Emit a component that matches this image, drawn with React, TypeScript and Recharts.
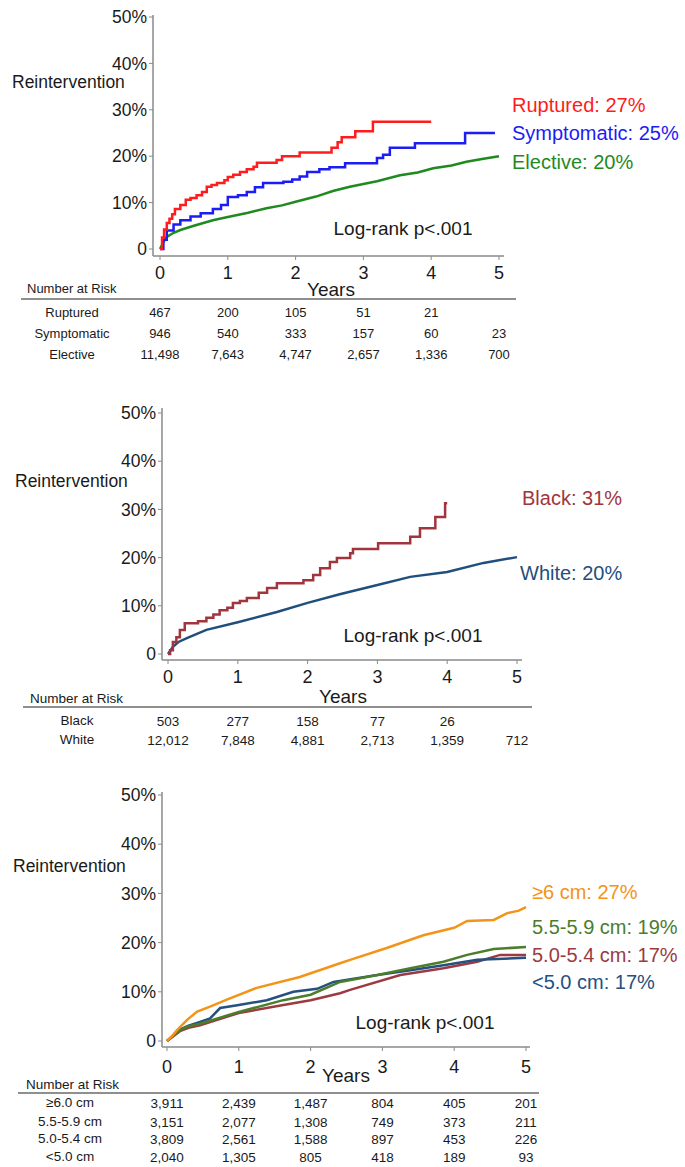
import React from 'react';
import { LineChart, Line, XAxis, YAxis } from 'recharts';

const years = [0, 1, 2, 3, 4, 5];
const yTicks = [0, 10, 20, 30, 40, 50];

// panel 1: presentation
const ruptured: [number, number][] = [
  [0, 0], [0.03, 2.5], [0.06, 4.2], [0.1, 5.6], [0.14, 6.5], [0.18, 7.5], [0.22, 8.6], [0.3, 9.5],
  [0.38, 10.6], [0.45, 11], [0.54, 11.6], [0.62, 12.3], [0.69, 13.4], [0.76, 13.8], [0.84, 14.2],
  [0.95, 14.8], [1.0, 15.5], [1.08, 16], [1.18, 16.6], [1.28, 17.2], [1.38, 17.7], [1.43, 18.6],
  [1.72, 19.2], [1.8, 20], [2.06, 20.8], [2.53, 21.8], [2.62, 23], [2.68, 24.1], [2.88, 25.4],
  [3.14, 27.4], [4.0, 27.4],
];
const symptomatic: [number, number][] = [
  [0, 0], [0.05, 2], [0.1, 4], [0.2, 5.3], [0.3, 6.2], [0.45, 7], [0.6, 7.7], [0.78, 8.6],
  [0.9, 9.5], [1.0, 11.2], [1.15, 11.6], [1.28, 12.3], [1.4, 13.3], [1.52, 14.2], [1.82, 14.5],
  [1.95, 15], [2.06, 15.6], [2.17, 16.6], [2.35, 17.2], [2.5, 17.6], [2.73, 18.5], [3.2, 19.6],
  [3.29, 20.3], [3.39, 21.8], [3.76, 22.8], [4.5, 25], [4.94, 25],
];
const elective: [number, number][] = [
  [0, 0], [0.05, 1.5], [0.1, 2.6], [0.2, 3.5], [0.3, 4.1], [0.5, 5], [0.78, 6.2], [1, 6.9],
  [1.3, 7.8], [1.57, 8.8], [1.8, 9.4], [2, 10.2], [2.3, 11.3], [2.55, 12.5], [2.8, 13.4],
  [3.2, 14.6], [3.54, 15.9], [3.8, 16.5], [4.03, 17.4], [4.3, 18], [4.52, 18.8], [4.75, 19.4], [5, 20],
];
const risk1Labels = ['Ruptured', 'Symptomatic', 'Elective'];
const risk1 = [
  [467, 200, 105, 51, 21, null],
  [946, 540, 333, 157, 60, 23],
  [11498, 7643, 4747, 2657, 1336, 700],
];

// panel 2: race
const black: [number, number][] = [
  [0, 0], [0.03, 0.8], [0.07, 2.5], [0.12, 3.5], [0.17, 5], [0.24, 6.4], [0.43, 6.8], [0.55, 7.5],
  [0.65, 8.2], [0.74, 9.1], [0.85, 9.6], [0.93, 10.6], [1.03, 11], [1.13, 11.6], [1.3, 12.7],
  [1.42, 13.7], [1.56, 14.7], [1.94, 15.3], [2.08, 16.4], [2.18, 17.8], [2.32, 19.1], [2.42, 19.9],
  [2.61, 20.9], [2.65, 21.8], [3.01, 23], [3.47, 24.3], [3.61, 26.1], [3.83, 28.4], [3.97, 31.3], [4.0, 31.3],
];
const white: [number, number][] = [
  [0, 0], [0.07, 1.5], [0.15, 2.5], [0.27, 3.3], [0.55, 5], [1, 6.6], [1.56, 8.7], [2, 10.6],
  [2.46, 12.4], [3, 14.3], [3.47, 16], [4, 17], [4.52, 18.9], [5, 20.1],
];
const risk2Labels = ['Black', 'White'];
const risk2 = [
  [503, 277, 158, 77, 26, null],
  [12012, 7848, 4881, 2713, 1359, 712],
];

// panel 3: aneurysm diameter
const size60: [number, number][] = [
  [0, 0], [0.07, 1], [0.14, 2.2], [0.28, 4.3], [0.42, 6], [0.6, 7], [0.85, 8.5], [1.25, 10.8],
  [1.85, 13], [2.41, 15.8], [2.55, 16.5], [3.06, 18.9], [3.57, 21.5], [4, 23], [4.18, 24.4],
  [4.55, 24.6], [4.74, 26], [4.9, 26.5], [5, 27.2],
];
const size55: [number, number][] = [
  [0, 0], [0.18, 2.2], [0.3, 3], [0.46, 3.5], [1, 5.9], [1.62, 8.3], [2, 9.4], [2.41, 12],
  [2.93, 13.4], [3.39, 14.8], [3.85, 16.1], [4.18, 17.5], [4.55, 18.7], [5, 19.1],
];
const size50: [number, number][] = [
  [0, 0], [0.18, 2], [0.3, 2.7], [0.46, 3.2], [1, 5.7], [1.62, 7.3], [2, 8.3], [2.41, 9.7],
  [2.55, 10.4], [3.25, 13.4], [3.85, 14.8], [4.32, 16.1], [4.64, 17.5], [5, 17.5],
];
const sizeLt50: [number, number][] = [
  [0, 0], [0.18, 2.3], [0.3, 3.1], [0.46, 3.9], [0.6, 4.6], [0.74, 6.7], [1, 7.3], [1.39, 8.3],
  [1.76, 10], [2.09, 10.6], [2.32, 12], [2.93, 13.4], [3.39, 14.4], [3.85, 15.4], [4.32, 16.5], [5, 16.9],
];
const risk3Labels = ['≥6.0 cm', '5.5-5.9 cm', '5.0-5.4 cm', '<5.0 cm'];
const risk3 = [
  [3911, 2439, 1487, 804, 405, 201],
  [3151, 2077, 1308, 749, 373, 211],
  [3809, 2561, 1588, 897, 453, 226],
  [2040, 1305, 805, 418, 189, 93],
];

const FONT = '"Liberation Sans", Arial, sans-serif';
const AXIS = '#8a8a8a';
const INK = '#1a1a1a';

type Series = { pts: [number, number][]; color: string; step: boolean };

interface PanelProps {
  top: number;
  height: number;
  margin: { top: number; left: number; right: number; bottom: number };
  xPad: { left: number; right: number };
  yPad: { top: number; bottom: number };
  series: Series[];
  tickCy: number;
  rowCy: number[];
  risk: (number | null)[][];
  tableFont: number;
}

const Panel: React.FC<PanelProps> = ({ top, height, margin, xPad, yPad, series, tickCy, rowCy, risk, tableFont }) => {
  const renderTick = (props: any) => {
    const { x, payload } = props;
    const i = years.indexOf(payload.value);
    return (
      <g>
        <text x={x} y={tickCy - top} textAnchor="middle" dominantBaseline="central" fontSize={18} fill={INK} fontFamily={FONT}>
          {payload.value}
        </text>
        {risk.map((row, k) =>
          row[i] == null ? null : (
            <text key={k} x={x} y={rowCy[k] - top} textAnchor="middle" dominantBaseline="central" fontSize={tableFont} fill={INK} fontFamily={FONT}>
              {(row[i] as number).toLocaleString('en-US')}
            </text>
          )
        )}
      </g>
    );
  };

  return (
    <div style={{ position: 'absolute', left: 0, top }}>
      <LineChart width={685} height={height} margin={margin}>
        <XAxis
          dataKey="t"
          type="number"
          domain={[0, 5]}
          ticks={years}
          padding={xPad}
          height={30}
          axisLine={{ stroke: AXIS, strokeWidth: 1.5 }}
          tickLine={{ stroke: AXIS }}
          tickSize={4}
          tick={renderTick}
          interval={0}
        />
        <YAxis
          type="number"
          domain={[0, 50]}
          ticks={yTicks}
          padding={yPad}
          width={60}
          axisLine={{ stroke: AXIS, strokeWidth: 1.5 }}
          tickLine={{ stroke: AXIS }}
          tickSize={4}
          tickMargin={2}
          tick={{ fill: INK, fontSize: 17.5, fontFamily: FONT }}
          tickFormatter={(v: number) => (v === 0 ? '0' : `${v}%`)}
          interval={0}
        />
        {series.map((s, k) => (
          <Line
            key={k}
            data={s.pts.map(([t, v]) => ({ t, v }))}
            dataKey="v"
            type={s.step ? 'stepAfter' : 'linear'}
            stroke={s.color}
            strokeWidth={2.5}
            dot={false}
            activeDot={false}
            isAnimationActive={false}
          />
        ))}
      </LineChart>
    </div>
  );
};

const Txt: React.FC<{ x: number; y: number; size: number; color?: string; center?: boolean; children: React.ReactNode }> = ({
  x, y, size, color = INK, center = false, children,
}) => (
  <div
    style={{
      position: 'absolute',
      left: x,
      top: y,
      transform: center ? 'translate(-50%, -50%)' : 'translateY(-50%)',
      fontSize: size,
      lineHeight: 1,
      color,
      whiteSpace: 'nowrap',
      fontFamily: FONT,
    }}
  >
    {children}
  </div>
);

const Rule: React.FC<{ x1: number; x2: number; y: number }> = ({ x1, x2, y }) => (
  <div style={{ position: 'absolute', left: x1, top: y - 1, width: x2 - x1, height: 2, background: '#8f8f8f' }} />
);

export default function App() {
  const c1 = { red: '#ff1c1c', blue: '#1c1cf5', green: '#1f8a1f' };
  const c2 = { black: '#a0353d', white: '#1f4f7c' };
  const c3 = { orange: '#f39418', green: '#4b7d2b', red: '#9c3a42', blue: '#24517f' };

  const rows1 = [312, 333, 354];
  const rows2 = [721, 740];
  const rows3 = [1103, 1122, 1139, 1157];

  return (
    <div style={{ position: 'absolute', left: 0, top: 0, width: 685, height: 1167, background: '#fff', overflow: 'hidden', fontFamily: FONT }}>
      {/* panel 1 */}
      <Panel
        top={0}
        height={370}
        margin={{ top: 15, left: 93, right: 181, bottom: 84 }}
        xPad={{ left: 7, right: 5 }}
        yPad={{ top: 2, bottom: 7 }}
        series={[
          { pts: elective, color: c1.green, step: false },
          { pts: symptomatic, color: c1.blue, step: true },
          { pts: ruptured, color: c1.red, step: true },
        ]}
        tickCy={273}
        rowCy={rows1}
        risk={risk1}
        tableFont={13}
      />
      <Txt x={12} y={83} size={17.5}>Reintervention</Txt>
      <Txt x={512} y={105} size={20} color={c1.red}>Ruptured: 27%</Txt>
      <Txt x={512} y={133} size={20} color={c1.blue}>Symptomatic: 25%</Txt>
      <Txt x={512} y={162} size={20} color={c1.green}>Elective: 20%</Txt>
      <Txt x={403} y={228} size={19} center>Log-rank p&lt;.001</Txt>
      <Txt x={331} y={289} size={19} center>Years</Txt>
      <Txt x={27} y={288} size={13}>Number at Risk</Txt>
      <Rule x1={21} x2={516} y={299} />
      {risk1Labels.map((l, i) => (
        <Txt key={l} x={72} y={rows1[i]} size={13} center>{l}</Txt>
      ))}

      {/* panel 2 */}
      <Panel
        top={380}
        height={380}
        margin={{ top: 28, left: 102, right: 163, bottom: 70 }}
        xPad={{ left: 6, right: 5 }}
        yPad={{ top: 5, bottom: 6 }}
        series={[
          { pts: white, color: c2.white, step: false },
          { pts: black, color: c2.black, step: true },
        ]}
        tickCy={677}
        rowCy={rows2}
        risk={risk2}
        tableFont={13.5}
      />
      <Txt x={15} y={482} size={17.5}>Reintervention</Txt>
      <Txt x={522} y={498} size={20} color={c2.black}>Black: 31%</Txt>
      <Txt x={520} y={573} size={20} color={c2.white}>White: 20%</Txt>
      <Txt x={413} y={635} size={19} center>Log-rank p&lt;.001</Txt>
      <Txt x={343} y={696} size={19} center>Years</Txt>
      <Txt x={30} y={699} size={13.5}>Number at Risk</Txt>
      <Rule x1={23} x2={532} y={707} />
      {risk2Labels.map((l, i) => (
        <Txt key={l} x={77} y={rows2[i]} size={13.5} center>{l}</Txt>
      ))}

      {/* panel 3 */}
      <Panel
        top={770}
        height={397}
        margin={{ top: 22, left: 102, right: 155, bottom: 90 }}
        xPad={{ left: 5, right: 4 }}
        yPad={{ top: 3, bottom: 6 }}
        series={[
          { pts: size50, color: c3.red, step: false },
          { pts: sizeLt50, color: c3.blue, step: false },
          { pts: size55, color: c3.green, step: false },
          { pts: size60, color: c3.orange, step: false },
        ]}
        tickCy={1067}
        rowCy={rows3}
        risk={risk3}
        tableFont={13.5}
      />
      <Txt x={13} y={867} size={17.5}>Reintervention</Txt>
      <Txt x={532} y={892} size={20} color={c3.orange}>≥6 cm: 27%</Txt>
      <Txt x={532} y={927} size={20} color={c3.green}>5.5-5.9 cm: 19%</Txt>
      <Txt x={532} y={955} size={20} color={c3.red}>5.0-5.4 cm: 17%</Txt>
      <Txt x={532} y={982} size={20} color={c3.blue}>&lt;5.0 cm: 17%</Txt>
      <Txt x={425} y={1022} size={19} center>Log-rank p&lt;.001</Txt>
      <Txt x={346} y={1075} size={19} center>Years</Txt>
      <Txt x={26} y={1085} size={13.5}>Number at Risk</Txt>
      <Rule x1={18} x2={539} y={1093} />
      {risk3Labels.map((l, i) => (
        <Txt key={l} x={70} y={rows3[i]} size={13.5} center>{l}</Txt>
      ))}
    </div>
  );
}
